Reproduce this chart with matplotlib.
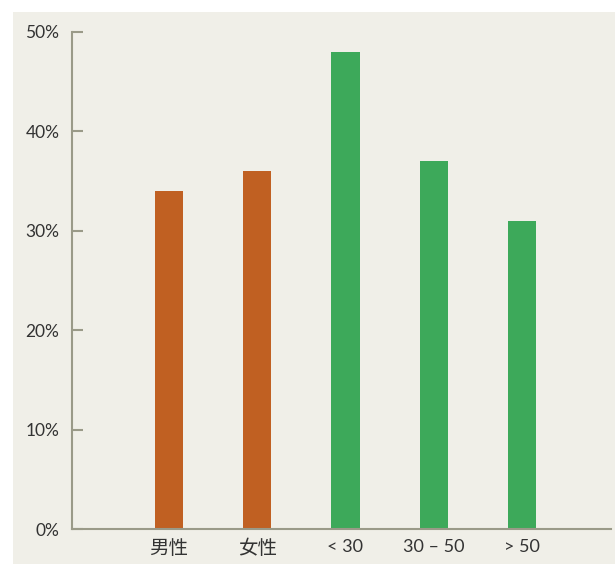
import matplotlib
matplotlib.use("Agg")
import matplotlib.pyplot as plt
from matplotlib.patches import Rectangle

plt.rcParams['font.family'] = ['Lato', 'Noto Sans CJK SC', 'DejaVu Sans']

categories = ["男性", "女性", "< 30", "30 – 50", "> 50"]
values = [34, 36, 48, 37, 31]
colors = ["#c06022", "#c06022", "#3da95a", "#3da95a", "#3da95a"]
yticks = [0, 10, 20, 30, 40, 50]

fig = plt.figure(figsize=(6.15, 5.64), dpi=100)
fig.patch.set_facecolor("white")
# beige panel behind the chart, leaves a white strip at left and top
fig.patches.append(Rectangle((13/615, 0), 1 - 13/615, 1 - 12/564,
                             transform=fig.transFigure, facecolor="#f0efe8",
                             edgecolor="none", zorder=-5))

ax = fig.add_axes([72/615, 35/564, 539/615, 497/564])
ax.set_facecolor("none")

x = list(range(len(categories)))
ax.bar(x, values, width=0.32, color=colors, zorder=2)

ax.set_xlim(-1.1, 5.01)
ax.set_ylim(0, 50)
ax.set_yticks(yticks)
ax.set_yticklabels([f"{v}%" for v in yticks])
ax.set_xticks(x)
ax.set_xticklabels(categories)

for s in ["top", "right"]:
    ax.spines[s].set_visible(False)
for s in ["left", "bottom"]:
    ax.spines[s].set_color("#9a9a88")
    ax.spines[s].set_linewidth(1.5)

ax.tick_params(axis="y", direction="in", length=8, width=1.5, color="#9a9a88",
               pad=9, labelsize=12.5, labelcolor="#333333")
ax.tick_params(axis="x", length=0, pad=7, labelsize=13, labelcolor="#333333")
# the chinese labels are set a bit bigger
for lab in ax.get_xticklabels()[:2]:
    lab.set_fontsize(14)

fig.savefig("out.png", dpi=100, facecolor=fig.get_facecolor())
